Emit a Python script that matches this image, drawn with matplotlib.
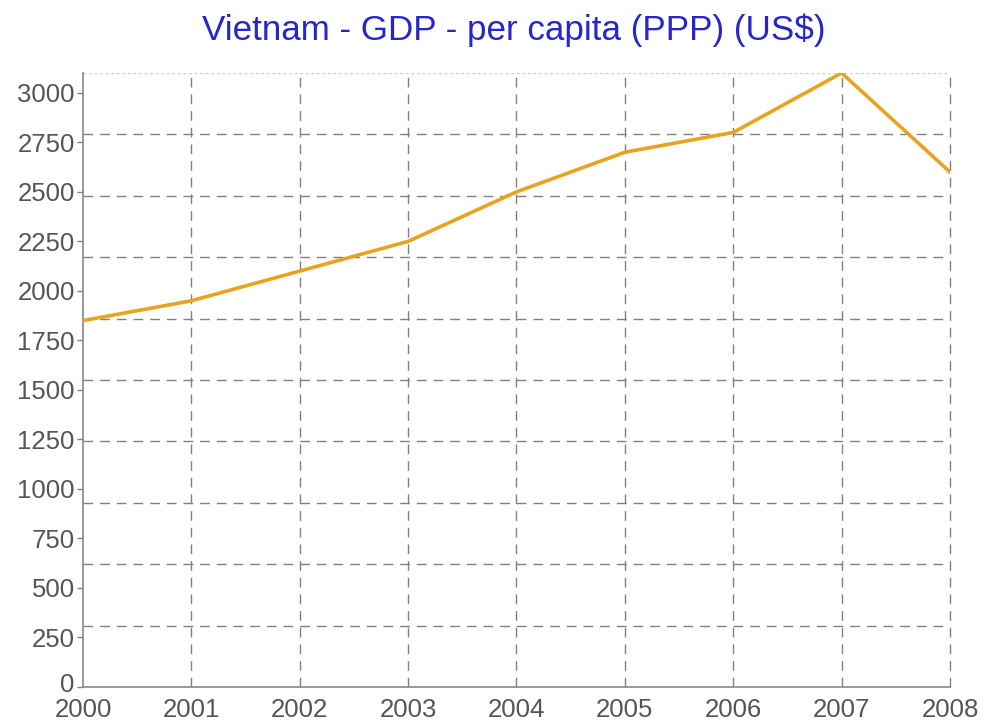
import matplotlib
matplotlib.use('Agg')
import matplotlib.pyplot as plt
import matplotlib.transforms as mtrans
import numpy as np

# data (CIA factbook style series)
years = [2000, 2001, 2002, 2003, 2004, 2005, 2006, 2007, 2008]
gdp_ppp = [1850, 1950, 2100, 2250, 2500, 2700, 2800, 3100, 2600]
ytick_vals = [0, 250, 500, 750, 1000, 1250, 1500, 1750, 2000, 2250, 2500, 2750, 3000]
title = "Vietnam - GDP - per capita (PPP) (US$)"

plt.rcParams['font.family'] = ['Liberation Sans', 'DejaVu Sans']

fig = plt.figure(figsize=(9.87, 7.23), dpi=100)
ax = fig.add_axes([0.0841, 0.0498, 0.9625 - 0.0841, 0.899 - 0.0498])

ymax = max(gdp_ppp)
ax.set_xlim(years[0], years[-1])
ax.set_ylim(0, ymax)

gcol = '#808080'
# horizontal grid: ten equal divisions of the value range
for v in np.linspace(0, ymax, 11)[1:-1]:
    ax.axhline(v, color=gcol, lw=1.0, ls=(0, (7, 5)), zorder=1)
for yr in years[1:]:
    ax.axvline(yr, color=gcol, lw=1.0, ls=(0, (7, 5)), zorder=1, clip_on=False)
ax.axhline(ymax, color='#cccccc', lw=1.0, ls=(0, (2, 2)), zorder=1)

ax.plot(years, gdp_ppp, color='#E8A41E', lw=2.6, zorder=3, solid_joinstyle='round')

ax.set_xticks(years)
ax.set_xticklabels([str(y) for y in years])
ax.set_yticks(ytick_vals)
ax.set_yticklabels([str(v) for v in ytick_vals])
ax.tick_params(axis='x', length=0, pad=8, labelsize=18.5, labelcolor='#555555')
ax.tick_params(axis='y', length=4, width=1, color=gcol, pad=2, labelsize=18.5, labelcolor='#555555')

# lift the "0" label a touch so it clears the first year label
zero_lbl = ax.get_yticklabels()[0]
zero_lbl.set_transform(zero_lbl.get_transform() + mtrans.ScaledTranslation(0, 3 / 72, fig.dpi_scale_trans))

for s in ['top', 'right']:
    ax.spines[s].set_visible(False)
for s in ['left', 'bottom']:
    ax.spines[s].set_color('#888888')
    ax.spines[s].set_linewidth(1.2)

fig.text(0.521, 0.958, title, ha='center', va='center', color='#2626CC', fontsize=25.2)

fig.savefig('out.png', dpi=100, facecolor='white')
